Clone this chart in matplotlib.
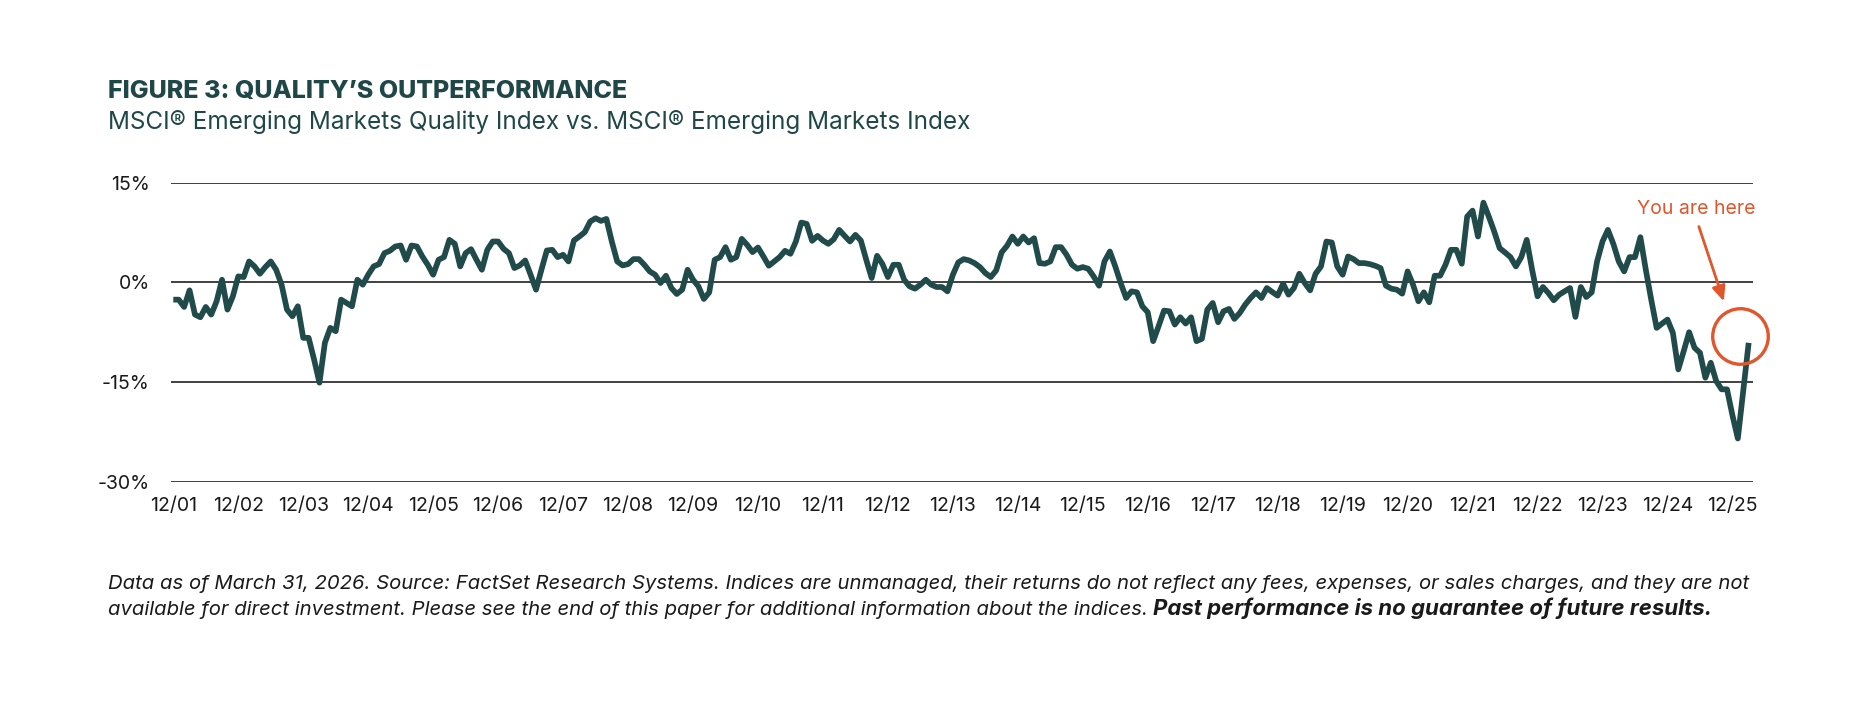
import matplotlib
matplotlib.use("Agg")
import matplotlib.pyplot as plt
import numpy as np
import pandas as pd

# ---------------- data ----------------
start_date = "2001-12-31"
excess_return = [
    -2.6, -2.6, -3.7, -1.2, -4.85, -5.25, -3.7, -4.85, -2.85, 0.4, -4.1, -2.1,
    0.9, 0.8, 3.15, 2.4, 1.3, 2.3, 3.15, 1.9, -0.35, -4.1, -5.1, -3.6,
    -8.35, -8.35, -11.6, -15.1, -9.1, -6.85, -7.35, -2.6, -3.1, -3.6, 0.4, -0.35,
    1.15, 2.4, 2.75, 4.4, 4.75, 5.4, 5.55, 3.4, 5.55, 5.4, 3.9, 2.65,
    1.15, 3.4, 3.8, 6.4, 5.8, 2.4, 4.4, 5.0, 3.4, 1.9, 4.9, 6.15,
    6.15, 5.05, 4.4, 2.15, 2.55, 3.3, 1.15, -1.1, 1.9, 4.8, 4.9, 3.8,
    4.15, 3.15, 6.3, 6.9, 7.55, 9.15, 9.65, 9.25, 9.55, 6.15, 3.15, 2.55,
    2.75, 3.5, 3.5, 2.65, 1.65, 1.15, -0.1, 1.0, -0.85, -1.75, -1.1, 1.9,
    0.4, -0.6, -2.5, -1.5, 3.4, 3.8, 5.3, 3.4, 3.8, 6.55, 5.65, 4.55,
    5.25, 3.9, 2.5, 3.15, 3.8, 4.75, 4.3, 6.15, 9.0, 8.8, 6.25, 7.0,
    6.3, 5.8, 6.5, 7.9, 7.0, 6.15, 7.15, 6.3, 3.4, 0.65, 4.0, 2.75,
    0.8, 2.65, 2.65, 0.4, -0.6, -0.95, -0.35, 0.4, -0.35, -0.7, -0.7, -1.35,
    1.15, 3.0, 3.5, 3.3, 2.9, 2.3, 1.4, 0.8, 1.8, 4.5, 5.5, 6.9,
    5.8, 6.9, 6.0, 6.65, 2.9, 2.8, 3.15, 5.3, 5.3, 4.15, 2.65, 2.05,
    2.3, 2.05, 0.9, -0.5, 3.15, 4.65, 2.4, -0.1, -2.35, -1.35, -1.5, -3.6,
    -4.5, -8.85, -6.6, -4.25, -4.35, -6.35, -5.25, -6.2, -5.25, -8.85, -8.5, -4.1,
    -3.1, -6.0, -4.35, -4.0, -5.5, -4.6, -3.35, -2.35, -1.5, -2.35, -0.85, -1.45,
    -2.0, -0.2, -1.85, -0.85, 1.3, -0.1, -1.2, 1.3, 2.4, 6.15, 6.0, 2.4,
    1.15, 3.9, 3.5, 2.9, 2.9, 2.75, 2.5, 2.15, -0.5, -0.95, -1.1, -1.7,
    1.65, -0.35, -2.85, -1.5, -3.0, 1.0, 1.0, 2.65, 4.9, 4.9, 2.8, 9.9,
    10.8, 6.9, 12.0, 9.9, 7.65, 5.15, 4.5, 3.8, 2.4, 3.8, 6.4, 1.9,
    -2.1, -0.7, -1.6, -2.7, -1.85, -1.35, -0.85, -5.2, -0.7, -2.2, -1.5, 3.15,
    6.15, 7.9, 5.8, 3.15, 1.65, 3.8, 3.8, 6.8, 1.9, -2.6, -6.85, -6.2,
    -5.6, -7.6, -13.1, -10.35, -7.5, -9.85, -10.6, -14.35, -12.1, -14.85, -16.1, -16.1,
    -20.0, -23.5, -16.3, -9.1,
]
y_ticks = [15, 0, -15, -30]
y_tick_labels = ["15%", "0%", "-15%", "-30%"]

title = "FIGURE 3: QUALITY\u2019S OUTPERFORMANCE"
subtitle = "MSCI\u00ae Emerging Markets Quality Index vs. MSCI\u00ae Emerging Markets Index"
note_line1 = ("Data as of March 31, 2026. Source: FactSet Research Systems. Indices are unmanaged, "
              "their returns do not reflect any fees, expenses, or sales charges, and they are not")
note_line2 = ("available for direct investment. Please see the end of this paper for additional "
              "information about the indices.")
note_bold = "Past performance is no guarantee of future results."
callout_text = "You are here"

# ---------------- style ----------------
plt.rcParams["font.family"] = ["Inter", "DejaVu Sans"]
TEAL = "#1f4747"
LINE = "#214a4a"
ORANGE = "#e1562b"
GRID = "#404040"
TEXT = "#1a1a1a"

W, H = 1862, 703
fig = plt.figure(figsize=(W / 100, H / 100), dpi=100)
fig.patch.set_facecolor("white")

ax_left, ax_right, ax_top, ax_bottom = 170.7, 1753.0, 182.7, 481.7
ax = fig.add_axes([ax_left / W, 1 - ax_bottom / H, (ax_right - ax_left) / W, (ax_bottom - ax_top) / H])

dates = pd.date_range(start_date, periods=len(excess_return), freq="ME")
x = np.arange(len(excess_return))

for yv in y_ticks:
    ax.axhline(yv, color=GRID, lw=1.4, zorder=1)

ax.plot(x, excess_return, color=LINE, lw=4.1, solid_joinstyle="round",
        solid_capstyle="butt", clip_on=False, zorder=3)

ax.set_xlim(-0.48, 291.8)
ax.set_ylim(-30, 15)

tick_pos = [i for i, d in enumerate(dates) if d.month == 12]
tick_lab = [d.strftime("%m/%y") for d in dates if d.month == 12]
ax.set_xticks(tick_pos, tick_lab)
ax.set_yticks(y_ticks, y_tick_labels)
ax.tick_params(axis="x", length=0, pad=11, labelsize=14, labelcolor=TEXT)
ax.tick_params(axis="y", length=0, pad=15, labelsize=14, labelcolor=TEXT)
for s in ax.spines.values():
    s.set_visible(False)
ax.set_facecolor("none")

# ---------------- callout ----------------
last_i = len(excess_return) - 1
circle_x, circle_y = last_i - 1.6, excess_return[-1] + 1.0
ax.plot([circle_x], [circle_y], marker="o", ms=40, mfc="none", mec=ORANGE, mew=2.4,
        clip_on=False, zorder=4)
ax.annotate("", xy=(last_i - 4.6, -2.85), xytext=(last_i - 9.2, 8.4),
            arrowprops=dict(arrowstyle="-|>,head_length=0.9,head_width=0.4", color=ORANGE,
                            lw=2.0, shrinkA=0, shrinkB=0), annotation_clip=False, zorder=4)
ax.text(last_i - 9.7, 11.05, callout_text, color=ORANGE, fontsize=14, ha="center",
        va="center", zorder=4)

# ---------------- titles ----------------
fig.text(108 / W, 1 - 98 / H, title, fontsize=18, fontweight="heavy", color=TEAL,
         ha="left", va="baseline")
fig.text(108 / W, 1 - 129 / H, subtitle, fontsize=17.5, color=TEAL, ha="left", va="baseline")

# ---------------- footnote ----------------
fig.text(108 / W, 1 - 589 / H, note_line1, fontsize=14.6, style="italic", color=TEXT,
         ha="left", va="baseline")
t2 = fig.text(108 / W, 1 - 615 / H, note_line2, fontsize=14.6, style="italic", color=TEXT,
              ha="left", va="baseline")
fig.canvas.draw()
bb = t2.get_window_extent()
fig.text((bb.x1 + 5) / W, 1 - 615 / H, note_bold, fontsize=16, style="italic",
         fontweight="bold", color=TEXT, ha="left", va="baseline")

fig.savefig("out.png", dpi=100, facecolor="white")
